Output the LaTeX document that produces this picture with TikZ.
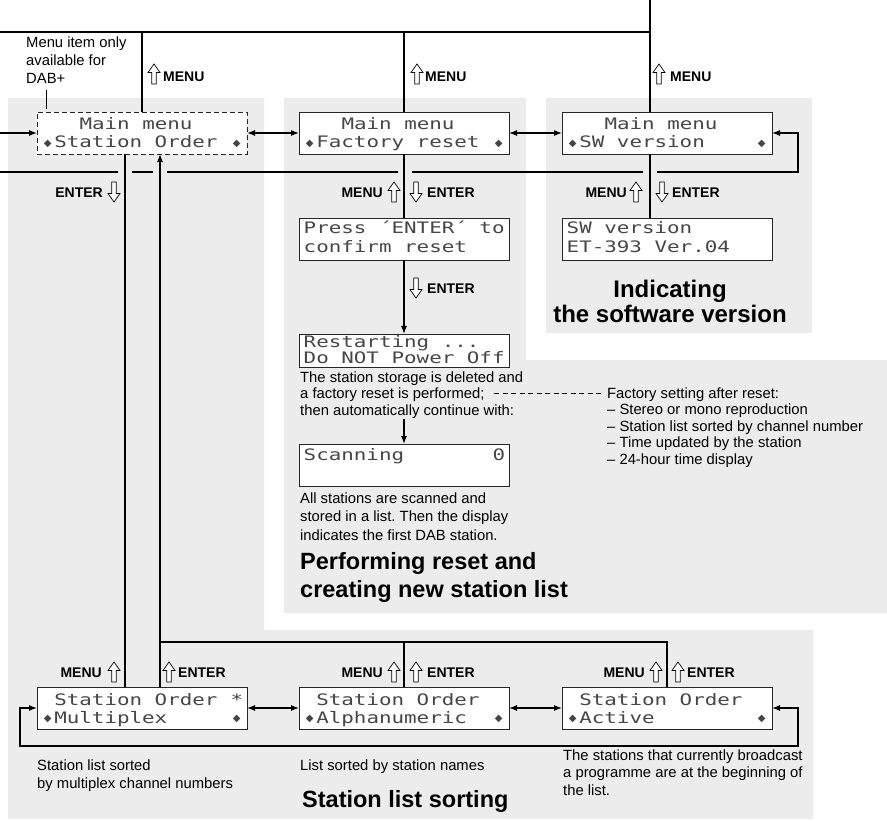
\documentclass[tikz,border=0pt]{standalone}
\usepackage{fontspec}
\setmainfont{Liberation Sans}
\newfontfamily\lcdfont[FakeStretch=1.32]{DejaVu Sans Mono}
\newfontfamily\symfont{DejaVu Sans}
\usetikzlibrary{arrows.meta,calc}
\definecolor{panel}{RGB}{236,236,236}
\definecolor{lcdink}{RGB}{70,70,70}
\frenchspacing
\tikzset{
  hup/.pic={\draw[line width=0.7pt, fill=white, line join=miter] (-2.2,10) -- (-2.2,-1.5) -- (-6,-1.5) -- (0,-10) -- (6,-1.5) -- (2.2,-1.5) -- (2.2,10) -- cycle;},
  hdown/.pic={\draw[line width=0.7pt, fill=white, line join=miter] (-2.2,-10) -- (-2.2,1.5) -- (-6,1.5) -- (0,10) -- (6,1.5) -- (2.2,1.5) -- (2.2,-10) -- cycle;},
  lcdbox/.style={draw=black!85, line width=0.9pt, fill=white, minimum width=210pt, minimum height=42pt, inner sep=0pt, outer sep=0pt, anchor=north west},
  lcdt/.style={font=\lcdfont\fontsize{15.8}{16}\selectfont, text=lcdink, inner sep=0pt, anchor=base west},
  lcdsymb/.style={font=\symfont\fontsize{10}{10}\selectfont, text=lcdink, inner sep=0pt},
  wire/.style={line width=1.2pt},
  arr/.style={wire, -{Latex[length=8pt,width=6pt]}},
  darr/.style={wire, {Latex[length=8pt,width=6pt]}-{Latex[length=8pt,width=6pt]}},
  lblw/.style={font=\bfseries\fontsize{14}{14}\selectfont, inner sep=0pt, anchor=base west},
  lble/.style={font=\bfseries\fontsize{14}{14}\selectfont, inner sep=0pt, anchor=base east},
  txt/.style={font=\fontsize{14.8}{16.5}\selectfont, inner sep=0pt, anchor=base west},
  head/.style={font=\bfseries\fontsize{23.5}{27}\selectfont, inner sep=0pt, anchor=base west},
  headc/.style={font=\bfseries\fontsize{24}{27}\selectfont, inner sep=0pt, anchor=base},
}
\newcommand{\lcdtxt}[4]{\node[lcdt] at ($(#1.north west)+({4.5+12.6*#2},#3)$) {#4};}
\newcommand{\lcdsym}[3]{\node[lcdsymb] at ($(#1.north west)+({10.8+12.6*#2},#3)$) {◆};}
\begin{document}
\begin{tikzpicture}[x=1pt,y=-1pt]
\useasboundingbox (0,0) rectangle (887,821);
\fill[white] (0,0) rectangle (887,821);
% panels
\fill[panel] (8,98) -- (264,98) -- (264,630) -- (813,630) -- (813,819) -- (8,819) -- cycle;
\fill[panel] (284,98) -- (526,98) -- (526,360) -- (887,360) -- (887,613) -- (284,613) -- cycle;
\fill[panel] (546,98) -- (812,98) -- (812,333) -- (546,333) -- cycle;

% LCD boxes
\node[lcdbox, dashed, dash pattern=on 5pt off 3pt] (sorder) at (37,112) {};
\node[lcdbox] (freset) at (299,112) {};
\node[lcdbox] (swm) at (562,112) {};
\node[lcdbox] (press) at (299,218) {};
\node[lcdbox, minimum height=33pt] (restart) at (299,334) {};
\node[lcdbox] (swver) at (562,218) {};
\node[lcdbox] (scan) at (299,444) {};
\node[lcdbox] (multi) at (37,687) {};
\node[lcdbox] (alpha) at (299,687) {};
\node[lcdbox] (active) at (562,687) {};

% LCD texts
\lcdtxt{sorder}{3}{18}{Main menu}
\lcdsym{sorder}{0}{31.5}\lcdtxt{sorder}{1}{36}{Station Order}\lcdsym{sorder}{15}{31.5}
\lcdtxt{freset}{3}{18}{Main menu}
\lcdsym{freset}{0}{31.5}\lcdtxt{freset}{1}{36}{Factory reset}\lcdsym{freset}{15}{31.5}
\lcdtxt{swm}{3}{18}{Main menu}
\lcdsym{swm}{0}{31.5}\lcdtxt{swm}{1}{36}{SW version}\lcdsym{swm}{15}{31.5}
\lcdtxt{press}{0}{16}{Press ´ENTER´ to}
\lcdtxt{press}{0}{35}{confirm reset}
\lcdtxt{restart}{0}{14}{Restarting ...}
\lcdtxt{restart}{0}{29}{Do NOT Power Off}
\lcdtxt{swver}{0}{16}{SW version}
\lcdtxt{swver}{0}{35}{ET-393 Ver.04}
\lcdtxt{scan}{0}{16}{Scanning}
\lcdtxt{scan}{15}{16}{0}
\lcdtxt{multi}{1}{18}{Station Order}\lcdtxt{multi}{15}{18}{*}
\lcdsym{multi}{0}{31.5}\lcdtxt{multi}{1}{36}{Multiplex}\lcdsym{multi}{15}{31.5}
\lcdtxt{alpha}{1}{18}{Station Order}
\lcdsym{alpha}{0}{31.5}\lcdtxt{alpha}{1}{36}{Alphanumeric}\lcdsym{alpha}{15}{31.5}
\lcdtxt{active}{1}{18}{Station Order}
\lcdsym{active}{0}{31.5}\lcdtxt{active}{1}{36}{Active}\lcdsym{active}{15}{31.5}

% coordinates
\coordinate (topL) at (0,32);
\coordinate (topE) at (650,0);
\coordinate (topR) at (650,32);

% top connectors
\draw[wire] (topL) -- (topR);
\draw[wire] (topE) -- (topE |- swm.north);
\draw[wire] (sorder.north |- topL) -- (sorder.north);
\draw[wire] (freset.north |- topL) -- (freset.north);
\draw[arr] (sorder.west -| topL) -- (sorder.west);
\draw[darr] (sorder.east) -- (freset.west);
\draw[darr] (freset.east) -- (swm.west);
\draw[arr] (657,172) -- (798,172) -- (swm.east -| 798,0) -- (swm.east);
\draw[wire] (643,172) -- (412,172);
\draw[wire] (398,172) -- (167,172);
\draw[wire] (153,172) -- (132,172);
\draw[wire] (118,172) -- (0,172);

% down connectors
\draw[wire] (freset.south) -- (press.north);
\draw[arr] (press.south) -- (restart.north);
\draw[arr] (scan.north |- 0,419) -- (scan.north);
\draw[wire] (topE |- swm.south) -- (topE |- swver.north);
\draw[wire] (sorder.south -| 125,0) -- (multi.north -| 125,0);
\draw[arr] (multi.north -| 160,0) -- (sorder.south -| 160,0);
\draw[wire] (160,642) -- (active.north |- 0,642) -- (active.north);
\draw[wire] (alpha.north |- 0,642) -- (alpha.north);

% bottom row
\draw[darr] (multi.west) -- (multi.west -| 20,0) -- (20,746) -- (798,746) -- (active.east -| 798,0) -- (active.east);
\draw[darr] (multi.east) -- (alpha.west);
\draw[darr] (alpha.east) -- (active.west);

% annotation
\draw[line width=0.8pt] (46,90) -- (46,109);
\draw[line width=0.9pt, dash pattern=on 5pt off 3.5pt] (494,393) -- (602,393);

% hollow arrows + labels
\pic at (154,74) {hup}; \node[lblw] at (163,82) {MENU};
\pic at (417,74) {hup}; \node[lblw] at (425,82) {MENU};
\pic at (659,74) {hup}; \node[lblw] at (670,82) {MENU};

\node[lble] at (103,198) {ENTER}; \pic at (114,192) {hdown};
\node[lble] at (383,198) {MENU}; \pic at (394,192) {hup};
\pic at (416,192) {hdown}; \node[lblw] at (427,198) {ENTER};
\node[lble] at (627,198) {MENU}; \pic at (636,192) {hup};
\pic at (662,192) {hdown}; \node[lblw] at (672,198) {ENTER};
\pic at (416,288) {hdown}; \node[lblw] at (427,294) {ENTER};

\node[lble] at (102,677) {MENU}; \pic at (114,672) {hup};
\pic at (169,672) {hup}; \node[lblw] at (178,677) {ENTER};
\node[lble] at (383,677) {MENU}; \pic at (394,672) {hup};
\pic at (416,672) {hup}; \node[lblw] at (427,677) {ENTER};
\node[lble] at (645,677) {MENU}; \pic at (656,672) {hup};
\pic at (678,672) {hup}; \node[lblw] at (687,677) {ENTER};

% texts
\node[txt] at (26,48) {Menu item only};
\node[txt] at (26,66) {available for};
\node[txt] at (26,84) {DAB+};

\node[txt] at (300,382) {The station storage is deleted and};
\node[txt] at (300,398.5) {a factory reset is performed;};
\node[txt] at (300,415) {then automatically continue with:};

\node[txt] at (607,398) {Factory setting after reset:};
\node[txt] at (607,414.5) {– Stereo or mono reproduction};
\node[txt] at (607,431) {– Station list sorted by channel number};
\node[txt] at (607,447.5) {– Time updated by the station};
\node[txt] at (607,464) {– 24-hour time display};

\node[txt] at (300,503) {All stations are scanned and};
\node[txt] at (300,521.5) {stored in a list. Then the display};
\node[txt] at (300,540) {indicates the first DAB station.};

\node[head] at (300,569) {Performing reset and};
\node[head] at (300,597) {creating new station list};

\node[headc] at (670,298) {Indicating};
\node[headc] at (670,323) {the software version};

\node[txt] at (37,770) {Station list sorted};
\node[txt] at (37,788) {by multiplex channel numbers};
\node[txt] at (300,770) {List sorted by station names};
\node[txt] at (563,760) {The stations that currently broadcast};
\node[txt] at (563,777.5) {a programme are at the beginning of};
\node[txt] at (563,795) {the list.};

\node[head] at (302,807) {Station list sorting};
\end{tikzpicture}
\end{document}
